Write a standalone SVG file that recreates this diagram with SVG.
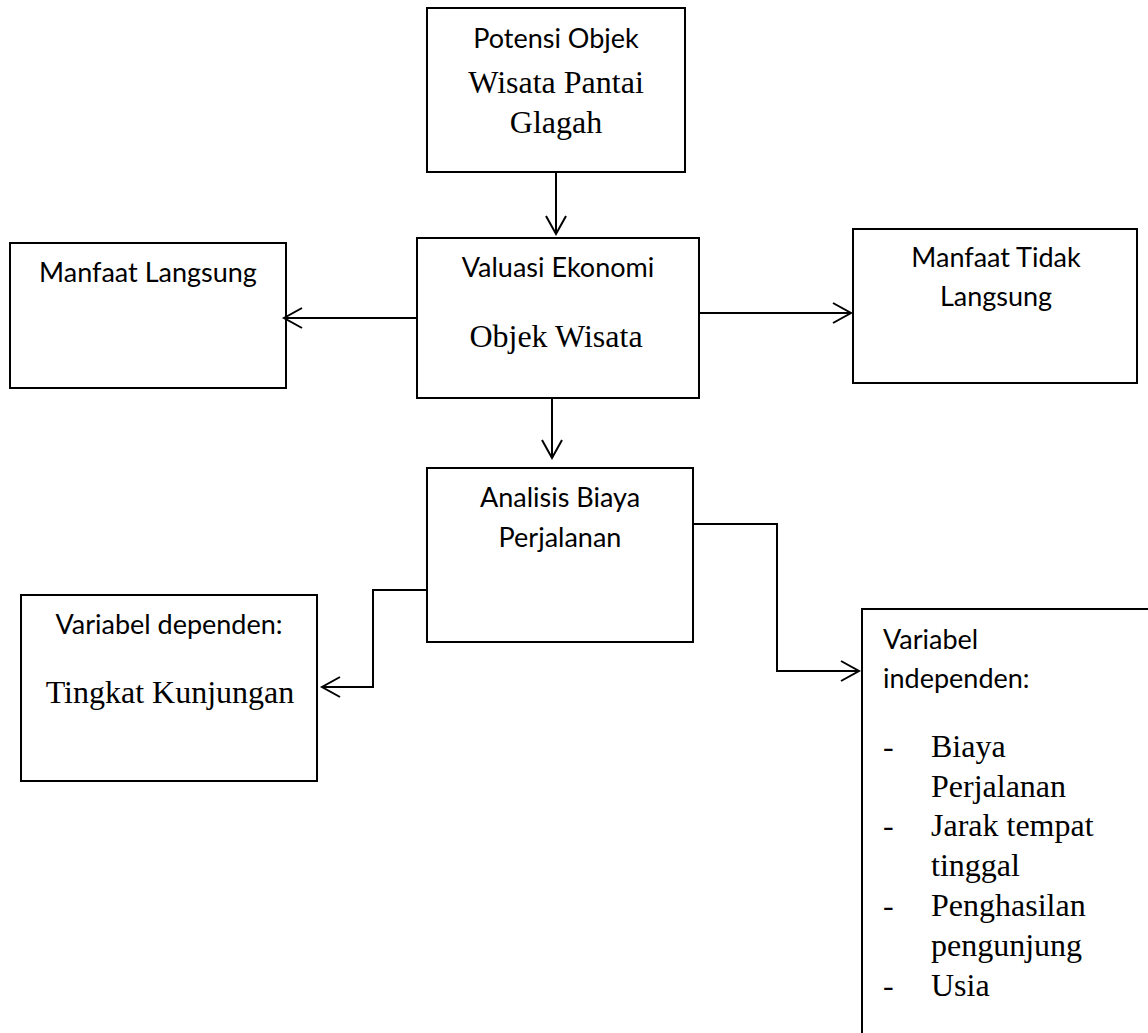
<svg xmlns="http://www.w3.org/2000/svg" width="1148" height="1033" viewBox="0 0 1148 1033">
<style>
.box{fill:#fff;stroke:#000;stroke-width:2}
.sans{font-family:Lato,"Open Sans","Liberation Sans",sans-serif;font-size:27px;fill:#000}
.serif{font-family:"Liberation Serif","Times New Roman",serif;font-size:32px;fill:#000}
.c{text-anchor:middle}
.conn{fill:none;stroke:#000;stroke-width:2}
</style>
<defs>
<marker id="arr" markerUnits="userSpaceOnUse" markerWidth="24" markerHeight="26" viewBox="-20 -13 24 26" refX="0" refY="0" orient="auto">
<path d="M-18,-10 L0,0 L-18,10" fill="none" stroke="#000" stroke-width="2"/>
</marker>
</defs>
<rect width="1148" height="1033" fill="#fff"/>
<g id="potensi">
<rect class="box" x="427" y="8" width="258" height="164"/>
<text class="sans c" x="556" y="48">Potensi Objek</text>
<text class="serif c" x="556" y="93">Wisata Pantai</text>
<text class="serif c" x="556" y="133">Glagah</text>
</g>
<g id="valuasi">
<rect class="box" x="417" y="238" width="282" height="160"/>
<text class="sans c" x="558" y="277">Valuasi Ekonomi</text>
<text class="serif c" x="556" y="347">Objek Wisata</text>
</g>
<g id="manfaat-langsung">
<rect class="box" x="10" y="243" width="276" height="145"/>
<text class="sans c" x="148" y="282">Manfaat Langsung</text>
</g>
<g id="manfaat-tidak-langsung">
<rect class="box" x="853" y="229" width="284" height="154"/>
<text class="sans c" x="996" y="267">Manfaat Tidak</text>
<text class="sans c" x="996" y="306">Langsung</text>
</g>
<g id="analisis">
<rect class="box" x="427" y="468" width="266" height="174"/>
<text class="sans c" x="560" y="507">Analisis Biaya</text>
<text class="sans c" x="560" y="547">Perjalanan</text>
</g>
<g id="dependen">
<rect class="box" x="21" y="595" width="296" height="186"/>
<text class="sans c" x="169" y="634">Variabel dependen:</text>
<text class="serif c" x="170" y="703">Tingkat Kunjungan</text>
</g>
<g id="independen">
<rect class="box" x="862" y="609" width="400" height="500"/>
<text class="sans" x="883" y="649">Variabel</text>
<text class="sans" x="883" y="688">independen:</text>
<text class="serif" x="883" y="757">-</text>
<text class="serif" x="931" y="757">Biaya</text>
<text class="serif" x="931" y="797">Perjalanan</text>
<text class="serif" x="883" y="836">-</text>
<text class="serif" x="931" y="836">Jarak tempat</text>
<text class="serif" x="931" y="876">tinggal</text>
<text class="serif" x="883" y="916">-</text>
<text class="serif" x="931" y="916">Penghasilan</text>
<text class="serif" x="931" y="956">pengunjung</text>
<text class="serif" x="883" y="996">-</text>
<text class="serif" x="931" y="996">Usia</text>
</g>
<g id="connectors">
<path class="conn" d="M556,172 L556,234" marker-end="url(#arr)"/>
<path class="conn" d="M417,318 L284,318" marker-end="url(#arr)"/>
<path class="conn" d="M699,313 L851,313" marker-end="url(#arr)"/>
<path class="conn" d="M552,398 L552,458" marker-end="url(#arr)"/>
<path class="conn" d="M427,590 L373,590 L373,687 L322,687" marker-end="url(#arr)"/>
<path class="conn" d="M693,524 L777,524 L777,671 L859,671" marker-end="url(#arr)"/>
</g>
</svg>
